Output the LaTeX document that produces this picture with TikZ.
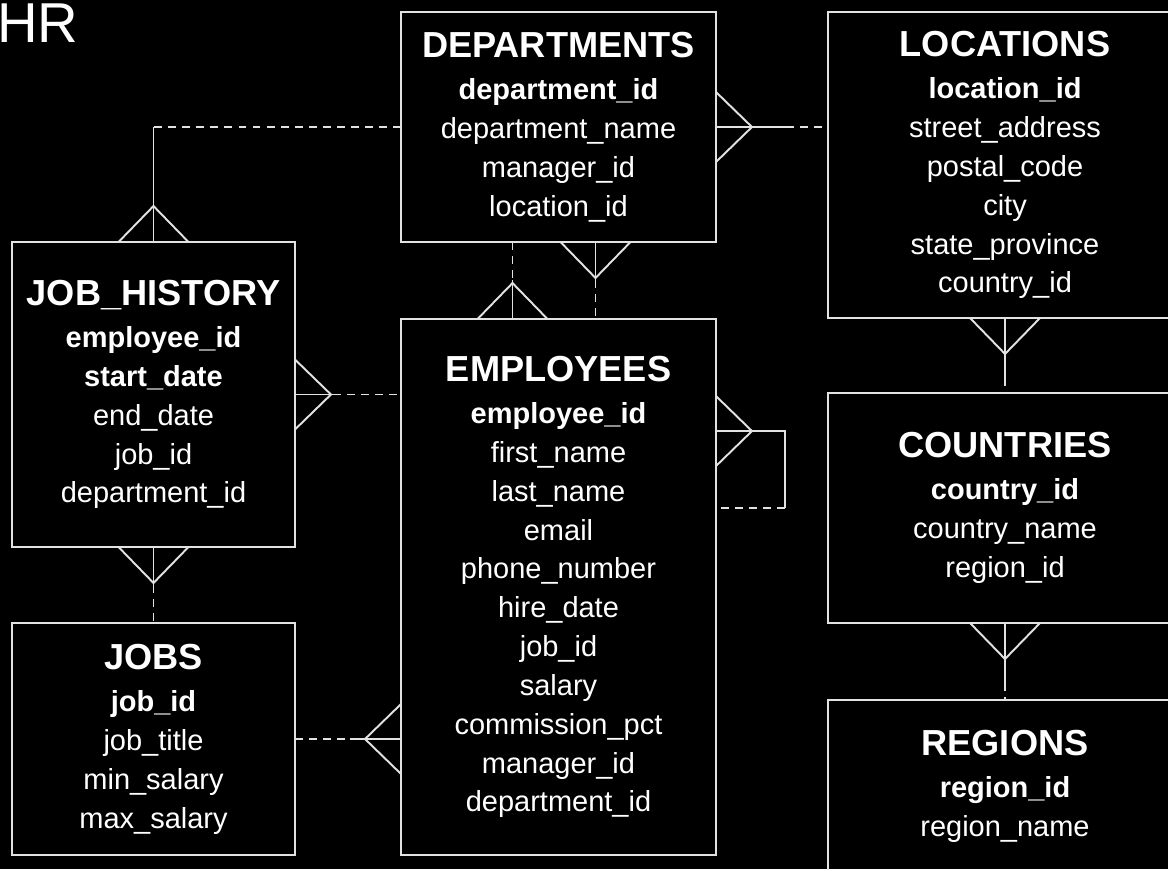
\documentclass[tikz,border=0pt]{standalone}
\usepackage{fontspec}
\setmainfont{Liberation Sans}
\usepackage{xcolor}
\usepackage{tikz}
\usetikzlibrary{calc}
\definecolor{text}{HTML}{FFFFFF}
\definecolor{wire}{HTML}{E2E2E2}
\newcommand{\enttitle}[1]{{\fontsize{20.6}{24}\selectfont\bfseries #1}}
\tikzset{
  table/.style={draw=wire, line width=1.1pt, text=text, inner sep=0pt, outer sep=0pt,
    align=center, font=\fontsize{16.5}{22.1}\selectfont},
  rel/.style={draw=wire, line width=1.1pt},
  opt/.style={rel, dash pattern=on 4.5pt off 3.5pt},
  crowfoot/.pic={\draw[rel] (-35,0) -- (0,-36) -- (35,0);}
}

\begin{document}
\begin{tikzpicture}[x=0.02cm, y=-0.02cm]
\useasboundingbox (0,0) rectangle (1168,869);
\clip (0,0) rectangle (1168,869);
\fill[black] (0,0) rectangle (1168,869);
\node[text=text, font=\fontsize{32}{36}\selectfont, anchor=base west, inner sep=0pt] (hr) at (-3,42) {HR};

% tables
\node[table, minimum width=6.3cm, minimum height=4.6cm] (dept) at (558.5,127)
  {\enttitle{DEPARTMENTS}\\[2pt] \textbf{department\_id}\\ department\_name\\ manager\_id\\ location\_id};
\node[table, minimum width=7.08cm, minimum height=6.12cm] (loc) at (1005,165)
  {\enttitle{LOCATIONS}\\[2pt] \textbf{location\_id}\\ street\_address\\ postal\_code\\ city\\ state\_province\\ country\_id};
\node[table, minimum width=5.66cm, minimum height=6.1cm] (jobh) at (153.5,394.5)
  {\enttitle{JOB\_HISTORY}\\[2pt] \textbf{employee\_id}\\ \textbf{start\_date}\\ end\_date\\ job\_id\\ department\_id};
\node[table, minimum width=6.3cm, minimum height=10.72cm] (emp) at (558.5,587)
  {\enttitle{EMPLOYEES}\\[2pt] \textbf{employee\_id}\\ first\_name\\ last\_name\\ email\\ phone\_number\\ hire\_date\\ job\_id\\ salary\\ commission\_pct\\ manager\_id\\ department\_id};
\node[table, minimum width=7.08cm, minimum height=4.6cm] (ctry) at (1005,508)
  {\enttitle{COUNTRIES}\\[2pt] \textbf{country\_id}\\ country\_name\\ region\_id};
\node[table, minimum width=5.66cm, minimum height=4.64cm] (jobs) at (153.5,739)
  {\enttitle{JOBS}\\[2pt] \textbf{job\_id}\\ job\_title\\ min\_salary\\ max\_salary};
\node[table, minimum width=7.08cm, minimum height=3.44cm] (reg) at (1005,786)
  {\enttitle{REGIONS}\\[2pt] \textbf{region\_id}\\ region\_name};

% departments - job_history
\draw[opt] (dept.west) -- (dept.west -| jobh.north) coordinate (c1);
\draw[rel] (c1) -- (jobh.north);
\pic at (jobh.north) {crowfoot};

% departments - locations
\draw[rel] (dept.east) -- ++(70,0) coordinate (c2);
\draw[opt] (c2) -- (dept.east -| loc.west);
\pic[rotate=-90] at (dept.east) {crowfoot};

% departments - employees
\draw[opt] ($(dept.south)+(-46,0)$) -- ++(0,38) coordinate (c3);
\draw[rel] (c3) -- (c3 |- emp.north);
\pic at (c3 |- emp.north) {crowfoot};
\draw[rel] ($(dept.south)+(37,0)$) coordinate (c4) -- ++(0,38) coordinate (c5);
\draw[opt] (c5) -- (c5 |- emp.north);
\pic[rotate=180] at (c4) {crowfoot};

% job_history - employees
\draw[rel] (jobh.east) -- ++(38,0) coordinate (c6);
\draw[opt] (c6) -- (jobh.east -| emp.west);
\pic[rotate=-90] at (jobh.east) {crowfoot};

% job_history - jobs
\draw[rel] (jobh.south) -- ++(0,38) coordinate (c7);
\draw[opt] (c7) -- (jobs.north);
\pic[rotate=180] at (jobh.south) {crowfoot};

% jobs - employees
\draw[opt] (jobs.east) -- ++(55,0) coordinate (c8);
\draw[rel] (c8) -- (jobs.east -| emp.west);
\pic[rotate=90] at (jobs.east -| emp.west) {crowfoot};

% employees - employees
\coordinate (c9) at ($(emp.north east)+(0,112)$);
\draw[rel] (c9) -- ++(69,0) -- ++(0,77) coordinate (c10);
\draw[opt] (c10) -- (c10 -| emp.east);
\pic[rotate=-90] at (c9) {crowfoot};

% locations - countries - regions
\draw[rel] (loc.south) -- ++(0,60) coordinate (c11);
\draw[opt] (c11) -- (ctry.north);
\pic[rotate=180] at (loc.south) {crowfoot};
\draw[rel] (ctry.south) -- ++(0,60) coordinate (c12);
\draw[opt] (c12) -- (reg.north);
\pic[rotate=180] at (ctry.south) {crowfoot};
\end{tikzpicture}
\end{document}
